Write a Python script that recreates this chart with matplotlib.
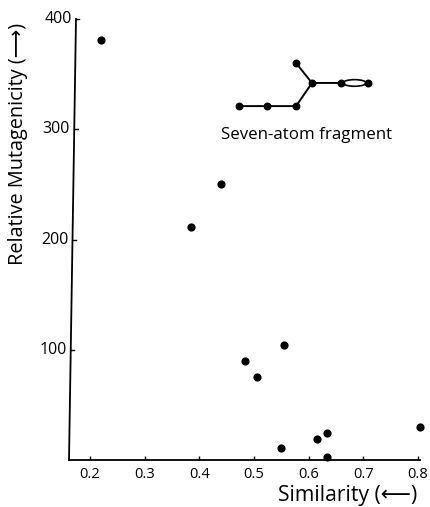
import matplotlib
matplotlib.use('Agg')
import matplotlib.pyplot as plt
from matplotlib.patches import Ellipse

plt.rcParams['font.family'] = ['Open Sans', 'DejaVu Sans']

similarity = [0.22, 0.44, 0.385, 0.484, 0.505, 0.555, 0.55, 0.615, 0.633, 0.633, 0.804]
mutagenicity = [381, 250, 211, 90, 75, 104, 11, 19, 24.5, 3, 30]

x_ticks = [0.2, 0.3, 0.4, 0.5, 0.6, 0.7, 0.8]
y_ticks = [100, 200, 300, 400]

# seven-atom fragment, drawn in data units
chain_x = [0.4725, 0.524, 0.577, 0.606, 0.659]
chain_y = [321, 321, 321, 342, 342]
branch_x = [0.577, 0.606]
branch_y = [360, 342]
end_x = [0.7085]
end_y = [342]

W, H = 430, 507
fig = plt.figure(figsize=(W / 100, H / 100), dpi=100)
ax = fig.add_axes([69 / W, 1 - 460 / H, (420 - 69) / W, (460 - 19) / H])
x0 = 0.2 + (69 - 90) / 546.7
ax.set_xlim(x0, 0.2 + (420 - 90) / 546.7)
ax.set_ylim(0, 400)

ax.scatter(similarity, mutagenicity, s=24, color='black', zorder=3, clip_on=False)

ax.plot(chain_x, chain_y, color='black', lw=1.4)
ax.plot(branch_x, branch_y, color='black', lw=1.4)
ax.scatter(chain_x + branch_x[:1] + end_x, chain_y + branch_y[:1] + end_y, s=22, color='black', zorder=3)
ax.add_patch(Ellipse((0.684, 342), 0.042, 6, fill=False, edgecolor='black', lw=1.2))
ax.text(0.596, 295, 'Seven-atom fragment', fontsize=12.2, ha='center', va='center')

# the y axis leans a little to the right in the scan
lean = 7 / 546.7 / 400


def axis_x(y):
    return x0 + lean * y


ax.plot([axis_x(0), axis_x(400)], [0, 400], color='black', lw=1.3, clip_on=False)
for v in y_ticks:
    ax.plot([axis_x(v), axis_x(v) + 0.006], [v, v], color='black', lw=1, clip_on=False)
    ax.annotate(str(v), (axis_x(v), v), xytext=(-3, 0), textcoords='offset points',
                ha='right', va='center', fontsize=11.5)

for side in ['top', 'right', 'left']:
    ax.spines[side].set_visible(False)
ax.spines['bottom'].set_linewidth(1.3)

ax.set_xticks(x_ticks)
ax.set_xticklabels(['%.1f' % v for v in x_ticks])
ax.set_yticks([])
ax.tick_params(axis='x', direction='in', length=3, width=1, pad=5, labelsize=10.5)

fig.text(348 / W, 1 - 496 / H, 'Similarity (\u27f5)', fontsize=15.2, ha='center', va='center')
fig.text(18 / W, 1 - 144 / H, 'Relative Mutagenicity (\u27f6)', fontsize=14.3, rotation=90, ha='center', va='center')

fig.savefig('out.png', dpi=100)
